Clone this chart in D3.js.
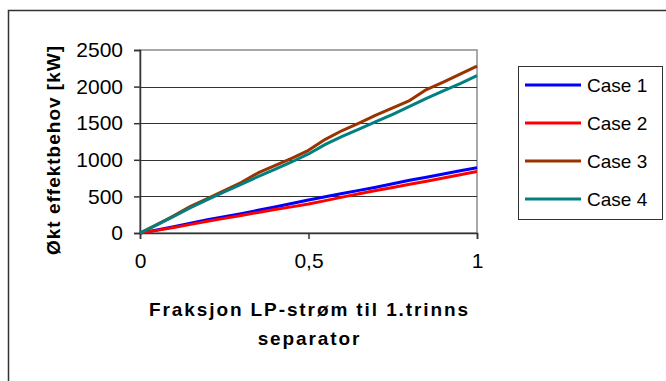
<!DOCTYPE html>
<html>
<head>
<meta charset="utf-8">
<script src="https://cdn.jsdelivr.net/npm/d3@7"></script>
<style>
body { margin:0; background:#fff; }
text { font-family: Arial, "Liberation Sans", sans-serif; }
</style>
</head>
<body>
<script>
const width = 666;
const height = 381;
const margin = {top:50, right:189, bottom:148, left:140};

const fractions = [0,0.05,0.1,0.15,0.2,0.25,0.3,0.35,0.4,0.45,0.5,0.55,0.6,0.65,0.7,0.75,0.8,0.85,0.9,0.95,1];
const case1 = [0,42,85,132,180,222,265,310,355,402,450,495,540,582,625,672,720,762,805,850,892];
const case2 = [0,36,75,118,160,200,240,280,320,357,395,442,490,535,580,622,665,708,750,795,840];
const case3 = [0,115,235,365,470,580,690,820,920,1020,1130,1280,1400,1500,1610,1710,1810,1960,2060,2170,2280];
const case4 = [0,110,225,345,455,560,665,770,870,970,1080,1210,1320,1420,1520,1620,1730,1840,1940,2040,2150];
const seriesNames = ["Case 1","Case 2","Case 3","Case 4"];
const seriesColors = ["#0000ff","#ff0000","#993300","#008080"];
const yTicks = [0,500,1000,1500,2000,2500];
const xTicks = [0,0.5,1];

const series = [case1,case2,case3,case4].map((vals,i)=>({
    name: seriesNames[i],
    color: seriesColors[i],
    values: vals.map((v,j)=>({x: fractions[j], y: v}))
}));

const svg = d3.select("body").append("svg")
.attr("width",width)
.attr("height",height);

// outer chart frame, cut off at right and bottom
svg.append("path")
.attr("d", `M8.5,${height+5} V10.5 H${width+5}`)
.attr("fill","none")
.attr("stroke","#333")
.attr("stroke-width",1.5);

const x = d3.scaleLinear().domain([0,1]).range([margin.left,width-margin.right]);
const y = d3.scaleLinear().domain([0,2500]).range([height-margin.bottom,margin.top]);

// plot border
svg.append("rect")
.attr("x",x(0)).attr("y",y(2500))
.attr("width",x(1)-x(0)).attr("height",y(0)-y(2500))
.attr("fill","none")
.attr("stroke","#8c8c8c")
.attr("stroke-width",1.5);

// grid lines
svg.append("g")
.selectAll("line")
.data(yTicks.filter(d=>d>0 && d<2500))
.join("line")
.attr("x1",x(0)).attr("x2",x(1))
.attr("y1",d=>Math.round(y(d))+0.5).attr("y2",d=>Math.round(y(d))+0.5)
.attr("stroke","#333")
.attr("stroke-width",1);

const yAxis = svg.append("g")
.attr("transform",`translate(${x(0)},0)`)
.call(d3.axisLeft(y).tickValues(yTicks).tickSize(6).tickPadding(11)
    .tickFormat(d3.format("d")));

const xAxis = svg.append("g")
.attr("transform",`translate(0,${y(0)})`)
.call(d3.axisBottom(x).tickValues(xTicks).tickSize(6).tickPadding(14)
    .tickFormat(d=> String(d).replace(".",",")));

[yAxis,xAxis].forEach(ax=>{
    ax.select(".domain").attr("stroke","#333").attr("stroke-width",1.5);
    ax.selectAll(".tick line").attr("stroke","#333").attr("stroke-width",1.5);
    ax.selectAll(".tick text")
        .attr("font-family","Arial, 'Liberation Sans', sans-serif")
        .attr("font-size","21px")
        .attr("fill","#000");
});

const line = d3.line().x(d=>x(d.x)).y(d=>y(d.y));

svg.append("g")
.selectAll("path")
.data(series)
.join("path")
.attr("d",d=>line(d.values))
.attr("fill","none")
.attr("stroke",d=>d.color)
.attr("stroke-width",3)
.attr("stroke-linejoin","round");

// axis titles
const xTitle = svg.append("text")
.attr("text-anchor","middle")
.attr("font-size","19px")
.attr("font-weight","bold")
.attr("letter-spacing","1.9px")
.attr("fill","#000");
xTitle.append("tspan").attr("x",(x(0)+x(1))/2+1).attr("y",316).text("Fraksjon LP-strøm til 1.trinns");
xTitle.append("tspan").attr("x",(x(0)+x(1))/2+1).attr("y",345).text("separator");

svg.append("text")
.attr("transform",`translate(60,150) rotate(-90)`)
.attr("text-anchor","middle")
.attr("font-size","19px")
.attr("font-weight","bold")
.attr("letter-spacing","1px")
.attr("fill","#000")
.text("Økt effektbehov [kW]");

// legend
const legend = svg.append("g");
legend.append("rect")
.attr("x",518.5).attr("y",66.5)
.attr("width",144).attr("height",153)
.attr("fill","#fff")
.attr("stroke","#333")
.attr("stroke-width",1);

const entries = legend.selectAll("g.entry")
.data(series)
.join("g")
.attr("class","entry")
.attr("transform",(d,i)=>`translate(0,${85 + i*38})`);

entries.append("line")
.attr("x1",525).attr("x2",581)
.attr("y1",0).attr("y2",0)
.attr("stroke",d=>d.color)
.attr("stroke-width",3);

entries.append("text")
.attr("x",587)
.attr("dy","0.35em")
.attr("font-size","19px")
.attr("fill","#000")
.text(d=>d.name);
</script>
</body>
</html>
